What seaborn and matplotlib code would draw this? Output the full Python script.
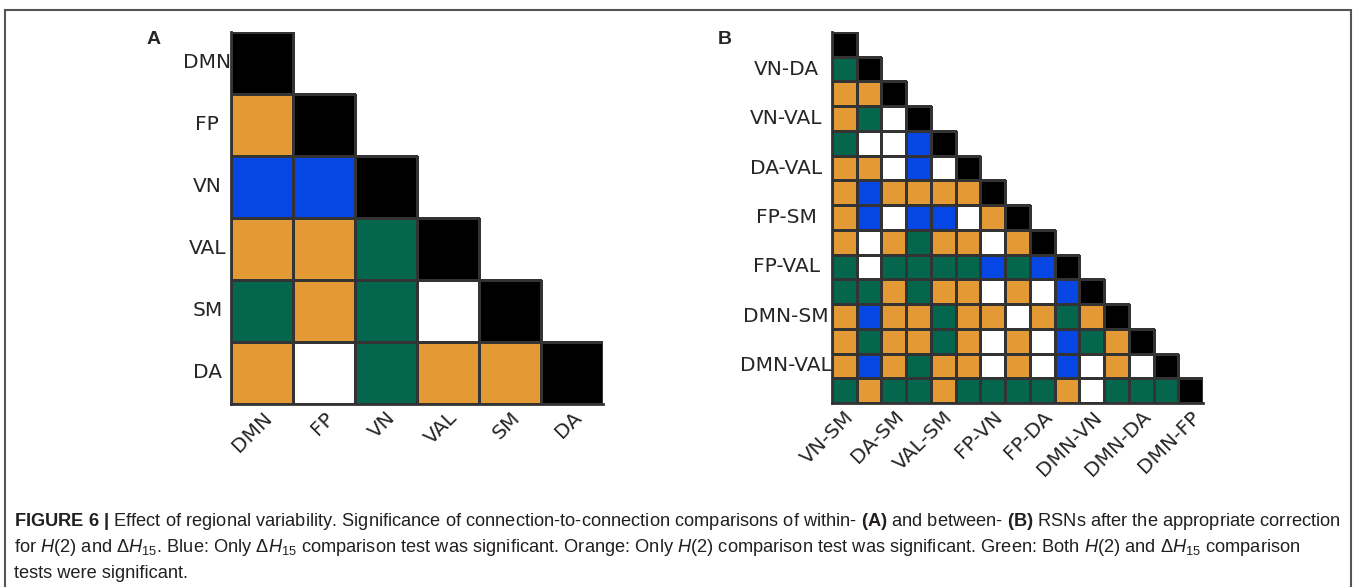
import numpy as np
import matplotlib
matplotlib.use("Agg")
import matplotlib.pyplot as plt
from matplotlib.colors import ListedColormap
from matplotlib.patches import Rectangle
import seaborn as sns

# ---------------- data ----------------
# W = not significant, B = only dH15, O = only H(2), G = both, K = diagonal
status_codes = ["W", "B", "O", "G", "K"]
status_colors = ["#ffffff", "#0546e4", "#e39a35", "#03664d", "#000000"]

panel_a_labels = ["DMN", "FP", "VN", "VAL", "SM", "DA"]
panel_a_rows = [
    "K",
    "OK",
    "BBK",
    "OOGK",
    "GOGWK",
    "OWGOOK",
]

panel_b_labels = ["VN-SM", "VN-DA", "DA-SM", "VN-VAL", "VAL-SM", "DA-VAL",
                  "FP-VN", "FP-SM", "FP-DA", "FP-VAL", "DMN-VN", "DMN-SM",
                  "DMN-DA", "DMN-VAL", "DMN-FP"]
panel_b_rows = [
    "K",
    "GK",
    "OOK",
    "OGWK",
    "GWWBK",
    "OOWBWK",
    "OBOOOOK",
    "OBWBBWOK",
    "OWOGOOWOK",
    "GWGGGGBGBK",
    "GGOGOOWOWBK",
    "OBOOGOOWOGOK",
    "OGOOGOWOWBGOK",
    "OBOGOOWOWBWOWK",
    "GOGGOGGGGOWGGGK",
]
panel_b_xshow = ["VN-SM", "DA-SM", "VAL-SM", "FP-VN", "FP-DA", "DMN-VN", "DMN-DA", "DMN-FP"]
panel_b_yshow = ["VN-DA", "VN-VAL", "DA-VAL", "FP-SM", "FP-VAL", "DMN-SM", "DMN-VAL"]

caption_lines = [
    r"$\mathbf{FIGURE\ 6\ |}$ Effect of regional variability. Significance of connection-to-connection comparisons of within- $\mathbf{(A)}$ and between- $\mathbf{(B)}$ RSNs after the appropriate correction",
    r"for $H$(2) and $\Delta H_{15}$. Blue: Only $\Delta H_{15}$ comparison test was significant. Orange: Only $H$(2) comparison test was significant. Green: Both $H$(2) and $\Delta H_{15}$ comparison",
    "tests were significant.",
]


def to_matrix(rows):
    n = len(rows)
    m = np.zeros((n, n))
    mask = np.ones((n, n), dtype=bool)
    for i, r in enumerate(rows):
        for j, ch in enumerate(r):
            m[i, j] = status_codes.index(ch)
            mask[i, j] = False
    return m, mask


sns.set_style("white")
plt.rcParams["font.family"] = ["DejaVu Sans"]
plt.rcParams["mathtext.fontset"] = "custom"
plt.rcParams["mathtext.rm"] = "Liberation Sans"
plt.rcParams["mathtext.it"] = "Liberation Sans:italic"
plt.rcParams["mathtext.bf"] = "Liberation Sans:bold"

W, H = 1354, 587
fig = plt.figure(figsize=(W / 100, H / 100), dpi=100)
cmap = ListedColormap(status_colors)


def px_axes(x0, y0, x1, y1):
    return fig.add_axes([x0 / W, 1 - y1 / H, (x1 - x0) / W, (y1 - y0) / H])


def draw_panel(ax, rows, labels, xshow, yshow, ypad):
    m, mask = to_matrix(rows)
    sns.heatmap(m, mask=mask, cmap=cmap, vmin=-0.5, vmax=len(status_codes) - 0.5,
                linewidths=1.0, linecolor="#333333", cbar=False, ax=ax,
                xticklabels=labels, yticklabels=labels)
    mesh = ax.collections[0]
    edge = [(0.2, 0.2, 0.2, 1.0) if not mk else (1, 1, 1, 0) for mk in mask.ravel()]
    mesh.set_edgecolor(edge)
    n = len(labels)
    xt = [i + 0.5 for i in range(n) if labels[i] in xshow]
    yt = [i + 0.5 for i in range(n) if labels[i] in yshow]
    ax.set_xticks(xt)
    ax.set_xticklabels([l for l in labels if l in xshow], rotation=45, ha="right",
                       va="top", rotation_mode="anchor", fontsize=14.5)
    ax.set_yticks(yt)
    ax.set_yticklabels([l for l in labels if l in yshow], rotation=0, ha="center",
                       fontsize=14.5)
    ax.tick_params(axis="x", length=0, pad=3)
    ax.tick_params(axis="y", length=0, pad=ypad)
    for s in ["left", "bottom"]:
        ax.spines[s].set_visible(True)
        ax.spines[s].set_color("#333333")
        ax.spines[s].set_linewidth(2)
    for s in ["top", "right"]:
        ax.spines[s].set_visible(False)


axA = px_axes(231, 32, 603, 404)
draw_panel(axA, panel_a_rows, panel_a_labels, panel_a_labels, panel_a_labels, ypad=17)

axB = px_axes(832, 32, 1203, 403)
draw_panel(axB, panel_b_rows, panel_b_labels, panel_b_xshow, panel_b_yshow, ypad=33)

fig.text(154 / W, 1 - 40 / H, "A", fontsize=14, fontweight="bold",
         family=["Liberation Sans", "DejaVu Sans"], ha="center", va="center")
fig.text(725 / W, 1 - 40 / H, "B", fontsize=14, fontweight="bold",
         family=["Liberation Sans", "DejaVu Sans"], ha="center", va="center")

# outer frame
fig.add_artist(Rectangle((5 / W, -0.05), (1351 - 5) / W, 1 - 10 / H + 0.05,
                         transform=fig.transFigure, fill=False,
                         edgecolor="#555555", linewidth=1.5))

cap_texts = []
for line, y in zip(caption_lines, [522, 548, 573]):
    t = fig.text(14 / W, 1 - y / H, line, fontsize=12, color="#231f20",
                 family=["Liberation Sans", "DejaVu Sans"], ha="left", va="center")
    cap_texts.append(t)

# fit caption width to the reference text block (x 14 -> 1336 px)
fig.canvas.draw()
r = fig.canvas.get_renderer()
w1 = cap_texts[0].get_window_extent(r).width
fs = 12 * (1336 - 14) / w1
for t in cap_texts:
    t.set_fontsize(fs)

fig.savefig("out.png", dpi=100)
